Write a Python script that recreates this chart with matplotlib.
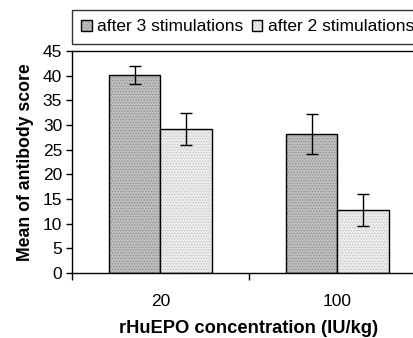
import matplotlib
matplotlib.use("Agg")
import matplotlib.pyplot as plt
import numpy as np

categories = ["20", "100"]
series_names = ["after 3 stimulations", "after 2 stimulations"]
after3 = [40.2, 28.2]
after3_err = [1.8, 4.0]
after2 = [29.2, 12.8]
after2_err = [3.3, 3.3]
yticks = [0, 5, 10, 15, 20, 25, 30, 35, 40, 45]

plt.rcParams['font.family'] = ['Liberation Sans', 'DejaVu Sans']
plt.rcParams['hatch.linewidth'] = 0.5

fig = plt.figure(figsize=(4.13, 3.38), dpi=100)
ax = fig.add_axes([0.174, 0.192, 0.857, 0.657])

x = np.arange(len(categories))
w = 0.29
ekw = dict(ecolor='black', elinewidth=1.0, capsize=4, capthick=1.0)
b1 = ax.bar(x - w/2, after3, w, yerr=after3_err, color='#bdbdbd', edgecolor='black',
            linewidth=1.0, hatch='......', label=series_names[0], error_kw=ekw)
b2 = ax.bar(x + w/2, after2, w, yerr=after2_err, color='#ebebeb', edgecolor='black',
            linewidth=1.0, hatch='......', label=series_names[1], error_kw=ekw)
for p in b1:
    p._hatch_color = (0.55, 0.55, 0.55, 1)
for p in b2:
    p._hatch_color = (0.75, 0.75, 0.75, 1)

ax.set_xlim(-0.5, 1.5)
ax.set_ylim(0, 45)
ax.set_yticks(yticks)
ax.set_yticklabels([str(t) for t in yticks], fontsize=12.5)
ax.set_xticks(x)
ax.set_xticklabels(categories, fontsize=12.5)
ax.set_xticks([-0.5, 0.5, 1.5], minor=True)
ax.tick_params(axis='x', which='major', length=0, pad=15)
ax.tick_params(axis='x', which='minor', length=5, width=1.0, direction='out')
ax.tick_params(axis='y', length=4, width=1.0, direction='out', pad=3)
for s in ax.spines.values():
    s.set_linewidth(1.0)

ax.set_ylabel("Mean of antibody score", fontsize=12.7, fontweight='bold', labelpad=6)
ax.set_xlabel("rHuEPO concentration (IU/kg)", fontsize=13.2, fontweight='bold', labelpad=8)

leg = fig.legend(handles=[b1, b2], labels=series_names, loc='lower left',
                 bbox_to_anchor=(0.174, 0.870), ncol=2, fontsize=12.5, frameon=True,
                 fancybox=False, edgecolor='black', handlelength=0.6, handleheight=0.6,
                 handletextpad=0.3, columnspacing=0.5, borderpad=0.55, borderaxespad=0)
leg.get_frame().set_linewidth(1.0)

fig.savefig("out.png", dpi=100)
